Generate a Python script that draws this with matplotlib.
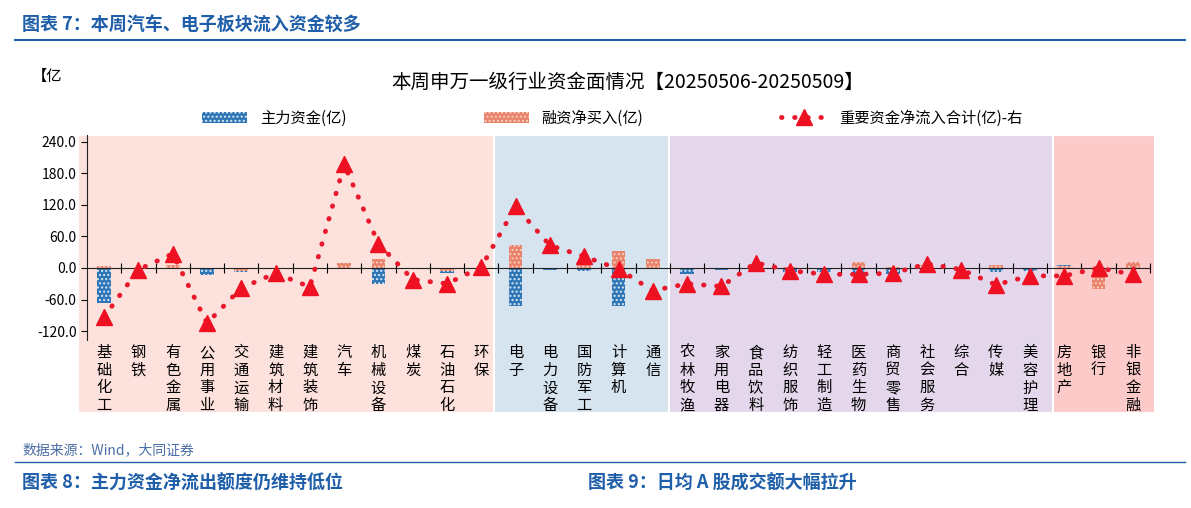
import matplotlib
matplotlib.use("Agg")
import matplotlib.pyplot as plt
from matplotlib.patches import Rectangle
import matplotlib.transforms as mtransforms

plt.rcParams['font.family'] = ['Noto Sans CJK SC', 'DejaVu Sans']
plt.rcParams['hatch.linewidth'] = 1.0

categories = ["基础化工","钢铁","有色金属","公用事业","交通运输","建筑材料","建筑装饰","汽车","机械设备","煤炭","石油石化","环保",
              "电子","电力设备","国防军工","计算机","通信",
              "农林牧渔","家用电器","食品饮料","纺织服饰","轻工制造","医药生物","商贸零售","社会服务","综合","传媒","美容护理",
              "房地产","银行","非银金融"]
main_flow = [-67,-2,5,-14,-8,0,-2,5,-30,-2,-10,0,
             -72,-3,-5,-72,0,
             -12,-3,-5,-8,-8,-15,-12,-10,0,-8,-5,
             5,-15,2]
margin_buy = [4,0,5,0,-5,0,0,10,18,0,-5,0,
              43,0,10,33,18,
              0,0,5,2,0,12,2,5,0,5,0,
              3,-40,12]
total = [-93,-3,27,-105,-38,-10,-36,197,46,-22,-30,2,
         117,43,22,-2,-43,
         -30,-35,10,-5,-12,-12,-10,8,-3,-32,-15,
         -15,0,-12]
yticks = [240,180,120,60,0,-60,-120]

W, H = 1191, 508
fig = plt.figure(figsize=(W/100, H/100), dpi=100)

def fx(x): return x/W
def fy(y): return 1 - y/H

fig.text(fx(22), fy(24), "图表 7：本周汽车、电子板块流入资金较多", color="#1f5ea8", fontsize=13, fontweight="bold", va="center")
fig.add_artist(plt.Line2D([fx(15), fx(1185)], [fy(40), fy(40)], color="#1f5ea8", lw=1.5))
fig.text(fx(22), fy(450), "数据来源：Wind，大同证券", color="#4a6fa5", fontsize=10, style="italic", va="center")
fig.add_artist(plt.Line2D([fx(15), fx(1185)], [fy(462), fy(462)], color="#1f5ea8", lw=1.0))
fig.text(fx(22), fy(483), "图表 8：主力资金净流出额度仍维持低位", color="#1f5ea8", fontsize=13, fontweight="bold", va="center")
fig.text(fx(588), fy(483), "图表 9：日均 A 股成交额大幅拉升", color="#1f5ea8", fontsize=13, fontweight="bold", va="center")

sections = [(78, 494, "#fde1dc"), (494, 669, "#d6e4f0"), (669, 1053, "#e4d7ec"), (1053, 1155, "#fdcaca")]
for x0, x1, c in sections:
    fig.add_artist(Rectangle((fx(x0), fy(413)), fx(x1-x0), (413-135)/H, transform=fig.transFigure, facecolor=c, edgecolor="white", lw=1.5, zorder=0))

fig.text(fx(32), fy(76), "【亿", fontsize=11, va="center")
fig.text(fx(628), fy(82), "本周申万一级行业资金面情况【20250506-20250509】", fontsize=14, va="center", ha="center")

ax = fig.add_axes([fx(87), fy(340), fx(1150-87), (340-135)/H])
ax.patch.set_alpha(0)
x = list(range(len(categories)))
w = 0.4
b1 = ax.bar(x, main_flow, width=w, facecolor="#2e75b6", edgecolor="#dbe8f5", hatch="....", lw=0, label="主力资金(亿)", zorder=2)
b2 = ax.bar(x, margin_buy, width=w, facecolor="#e8826a", edgecolor="#f8d0c4", hatch="....", lw=0, label="融资净买入(亿)", zorder=2)
l1, = ax.plot(x, total, color="#e8192c", ls=(0, (0.1, 2.6)), lw=3.5, dash_capstyle="round", marker="^", ms=11,
        markerfacecolor="#ee1122", markeredgecolor="#ee1122", label="重要资金净流入合计(亿)-右", zorder=3)

ax.set_xlim(-0.5, len(categories)-0.5)
ax.set_ylim(-137, 253)
ax.set_yticks(yticks)
ax.set_yticklabels([f"{v:.1f}" for v in yticks], fontsize=10, family=["Liberation Serif", "DejaVu Serif"])
for s in ["top", "right"]:
    ax.spines[s].set_visible(False)
ax.spines["left"].set_position(("data", -0.5))
ax.spines["bottom"].set_position(("data", 0))
ax.spines["bottom"].set_color("#222222")
ax.spines["left"].set_color("#222222")
ax.set_xticks([i+0.5 for i in range(len(categories))])
ax.tick_params(axis="x", direction="inout", length=7, labelbottom=False)
ax.tick_params(axis="y", direction="out", length=4)

trans = mtransforms.blended_transform_factory(ax.transData, ax.transAxes)
for i, c in enumerate(categories):
    ax.text(i, -0.02, "\n".join(c), transform=trans, ha="center", va="top", fontsize=11, linespacing=1.05)

fig.legend(handles=[b1, b2, l1], loc="center", bbox_to_anchor=(fx(612), fy(118)), ncol=3, frameon=False, fontsize=11,
           columnspacing=9, handlelength=3)

fig.savefig("out.png", dpi=100)
